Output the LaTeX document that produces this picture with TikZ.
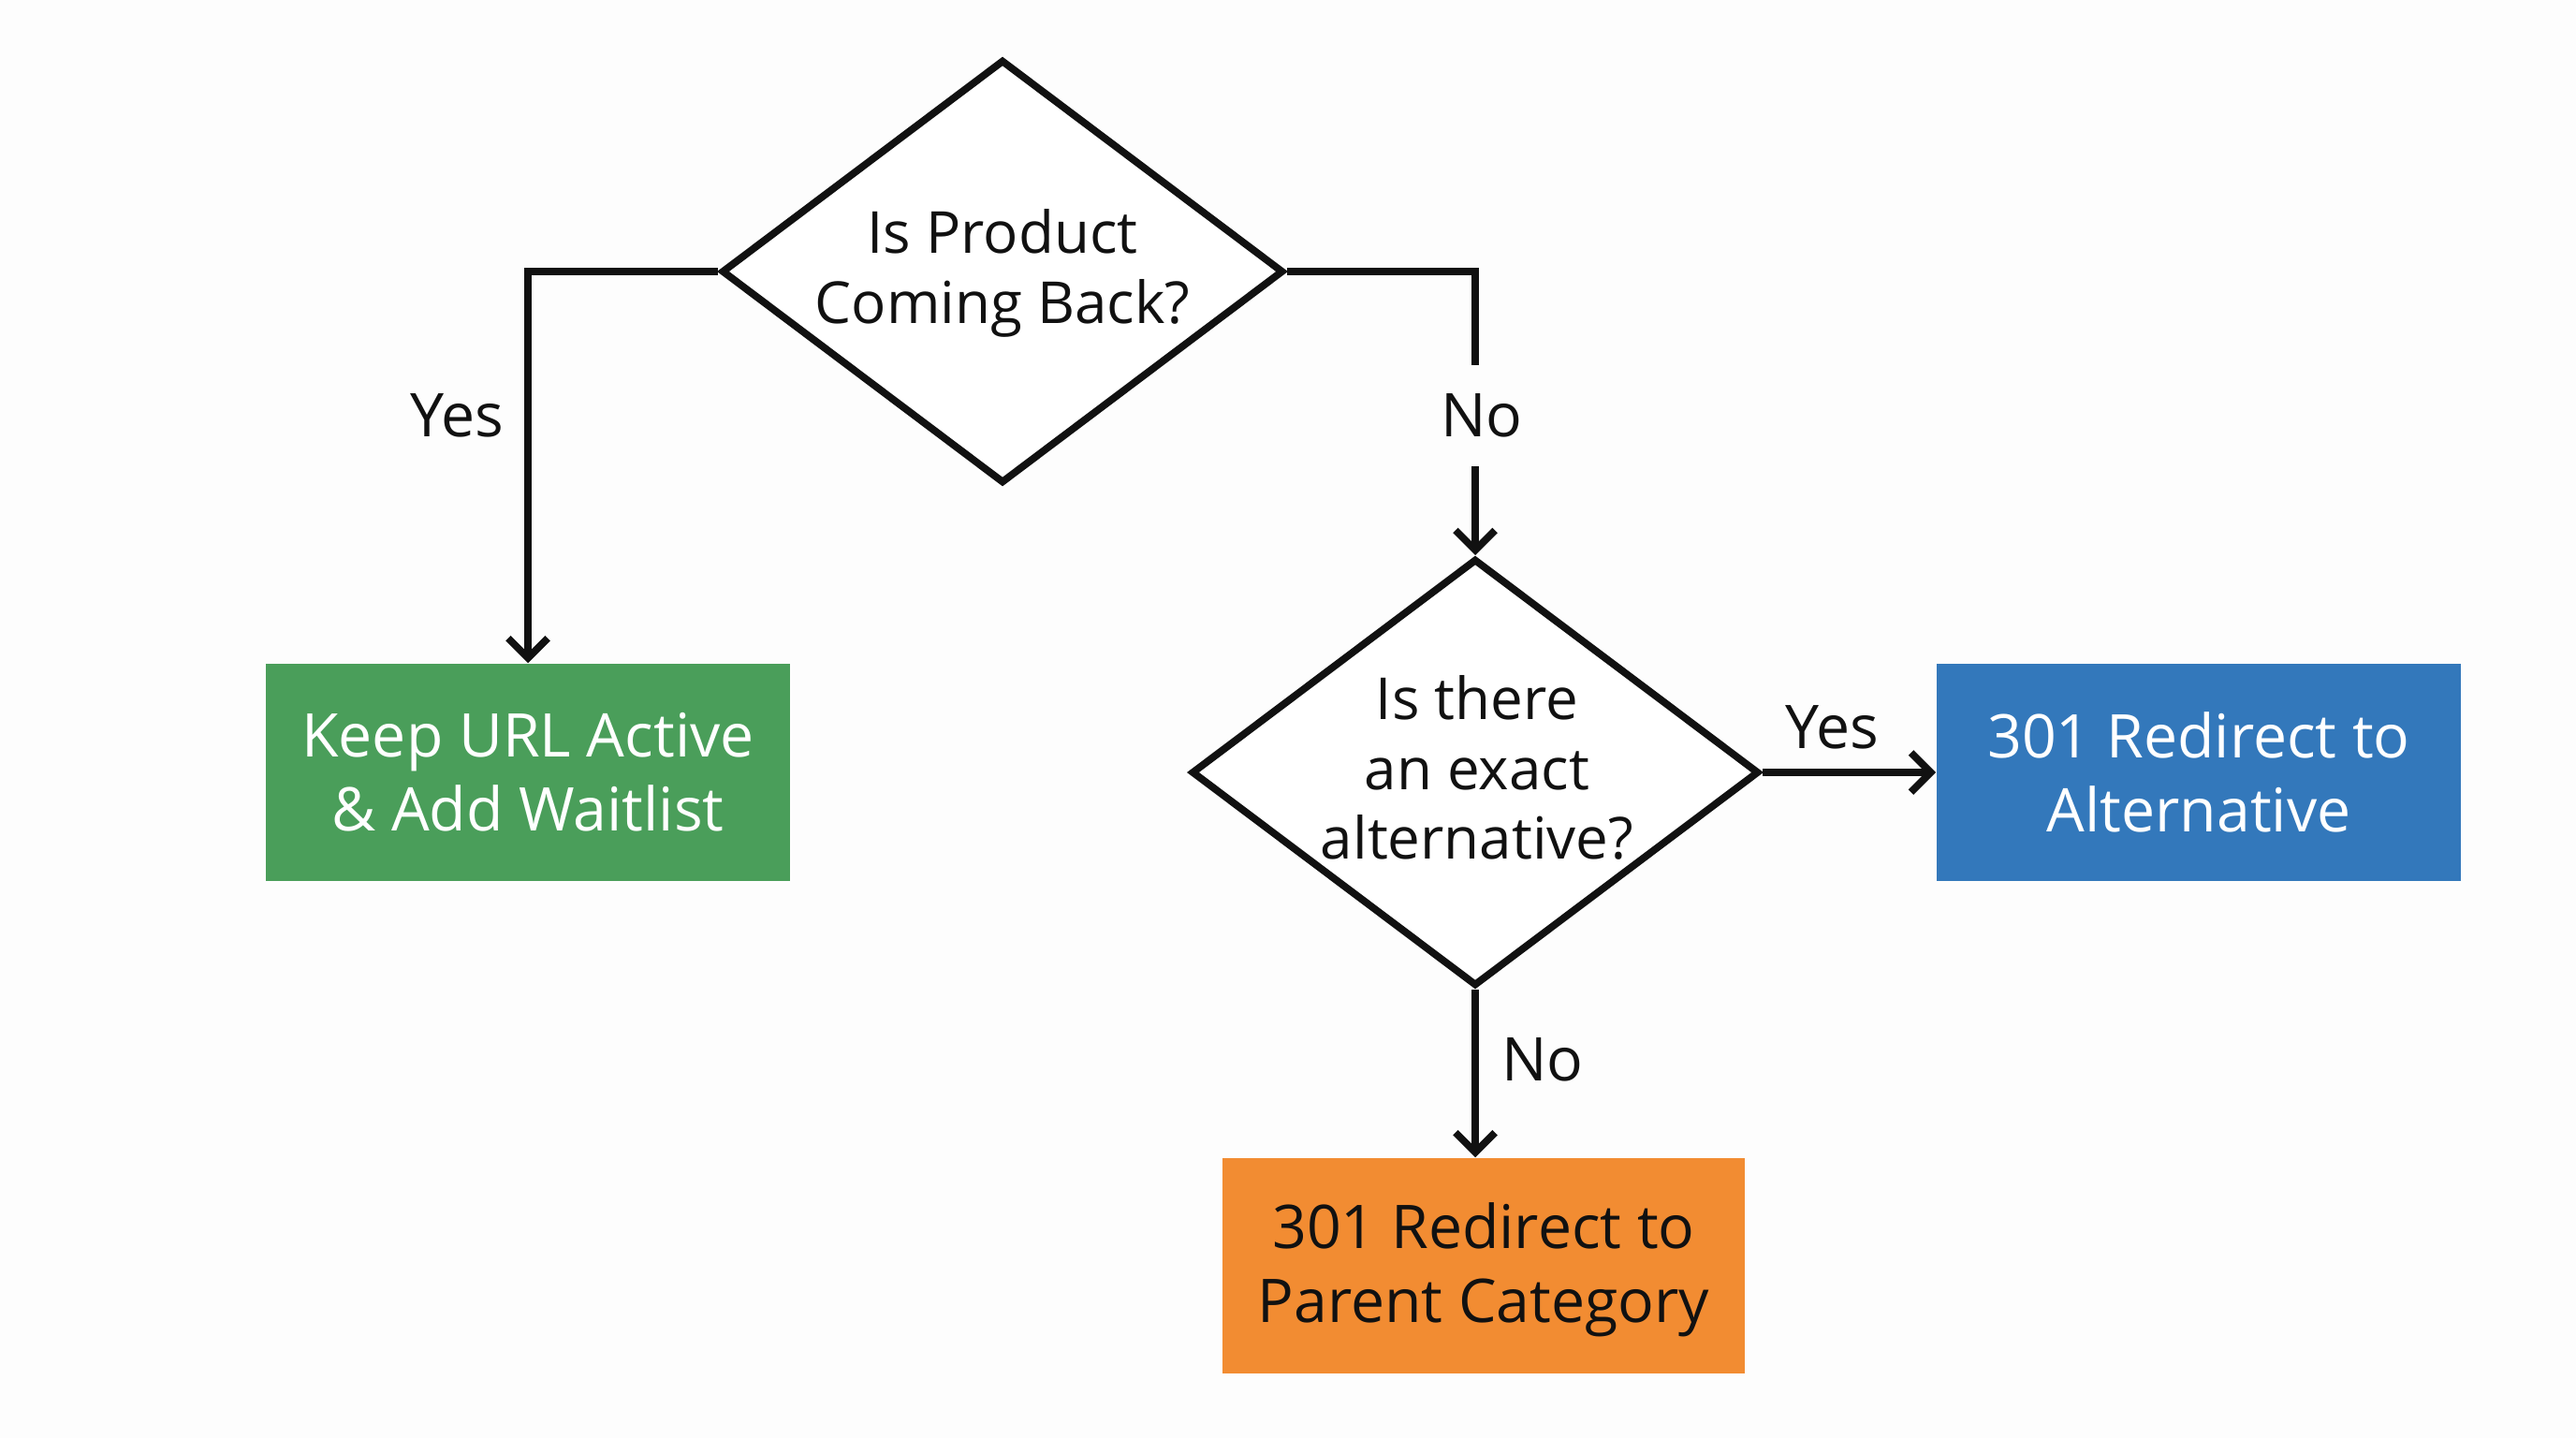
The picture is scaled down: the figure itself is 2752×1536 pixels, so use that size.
\documentclass[tikz,border=0pt]{standalone}
\usepackage{fontspec}
\setmainfont{Open Sans}
\usetikzlibrary{shapes.geometric,arrows.meta}
\definecolor{bgc}{HTML}{FDFDFD}
\definecolor{boxgreen}{HTML}{4A9E5A}
\definecolor{boxblue}{HTML}{3378BB}
\definecolor{boxorange}{HTML}{F28C32}
\definecolor{ink}{HTML}{111111}
\tikzset{
  conn/.style={line width=2.2pt, draw=ink, -{Straight Barb[length=6pt,width=12pt,line width=2.2pt]}},
  plainline/.style={line width=2.2pt, draw=ink},
  dia/.style={diamond, draw=ink, line width=2.2pt, fill=white, minimum width=6.0cm, minimum height=4.52cm, inner sep=0pt},
  dtext/.style={align=center, font=\fontsize{17.6}{21.2}\selectfont, text=ink, inner sep=0pt},
  endbox/.style={rectangle, minimum width=5.6cm, minimum height=2.32cm, align=center, inner sep=0pt, font=\fontsize{18.3}{22.5}\selectfont},
  lab/.style={font=\fontsize{18.3}{22}\selectfont, text=ink, inner sep=0pt}
}
\begin{document}
\begin{tikzpicture}[x=0.01cm,y=-0.01cm]
\fill[bgc] (0,0) rectangle (2752,1536);
\useasboundingbox (0,0) rectangle (2752,1536);
% decisions
\node[dia] (d1) at (1071,290) {};
\node[dtext] (d1t) at (1071,292) {Is Product\\Coming Back?};
\node[dia, minimum width=6.06cm, minimum height=4.56cm] (d2) at (1576,825) {};
\node[dtext] (d2t) at (1578,820) {Is there\\an exact\\alternative?};
% outcomes
\node[endbox, fill=boxgreen, text=white] (keep) at (564,825) {Keep URL Active\\\& Add Waitlist};
\node[endbox, fill=boxblue, text=white] (alt) at (2349,825) {301 Redirect to\\Alternative};
\node[endbox, fill=boxorange, text=ink, minimum width=5.58cm, minimum height=2.30cm] (parent) at (1585,1352) {\raisebox{0pt}{}\\[-22.5pt]\rule{0pt}{0pt}\\[-6pt]301 Redirect to\\Parent Category};
% labels
\node[lab] (yes1) at (488,444) {Yes};
\node[lab, inner ysep=0.3cm] (no1) at (1583,444) {No};
\node[lab] (yes2) at (1957,777) {Yes};
\node[lab] (no2) at (1648,1132) {No};
% connectors
\draw[conn] (d1.west) -| (keep.north);
\draw[plainline] (d1.east) -| (no1.north -| d2.north);
\draw[conn] (no1.south -| d2.north) -- (d2.north);
\draw[conn] (d2.east) -- (alt.west);
\draw[conn] (d2.south) -- (d2.south |- parent.north);
\end{tikzpicture}
\end{document}
